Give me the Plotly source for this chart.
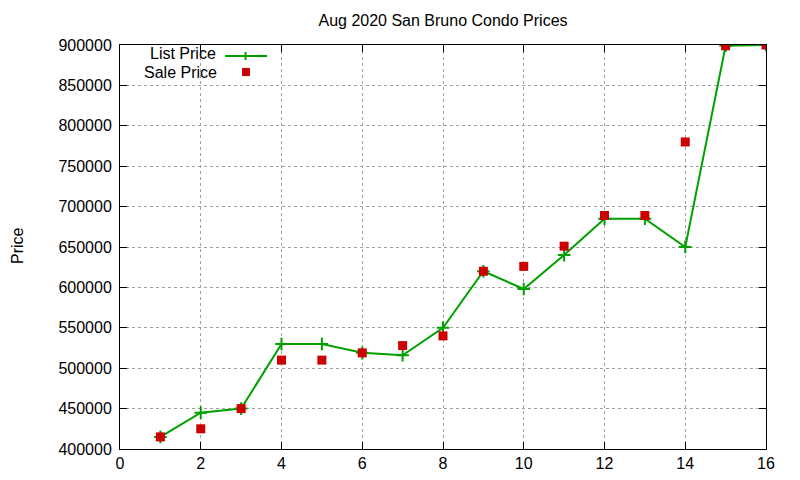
import plotly.graph_objects as go

# house number on the sheet and the two price series
idx = list(range(1, 17))
list_price = [415000, 445000, 450000, 530000, 530000, 519000, 516000, 550000,
              620000, 598000, 640000, 685000, 685000, 650000, 899000, 900000]
sale_price = [415000, 425000, 450000, 510000, 510000, 519000, 528000, 540000,
              620000, 626000, 651000, 689000, 689000, 780000, 899000, 900000]

green = "#00a000"
red = "#cc0000"
fam = "Liberation Sans, Arial, sans-serif"
fnt = dict(family=fam, size=15, color="black")
tfnt = dict(family=fam, size=16, color="black")

# page has an 8px body margin, so plot box 120..766 x 45..449 in the photo
L, T = 112, 37
W, H = 800, 480
px0, px1, py0, py1 = 120, 766, 45, 449


def px(x):
    return (x - px0) / (px1 - px0)


def py(y):
    return (py1 - y) / (py1 - py0)


fig = go.Figure()
fig.add_trace(go.Scatter(
    x=idx, y=list_price, mode="lines+markers", name="List Price",
    line=dict(color=green, width=2),
    marker=dict(symbol="cross-thin", size=9, line=dict(color=green, width=2)),
))
fig.add_trace(go.Scatter(
    x=idx, y=sale_price, mode="markers", name="Sale Price",
    marker=dict(symbol="square", size=9, color=red),
))

ax = dict(showline=True, linecolor="black", linewidth=1, mirror="ticks",
          ticks="inside", ticklen=7, tickcolor="black",
          showgrid=True, gridcolor="#a0a0a0", griddash="dot", gridwidth=1,
          zeroline=False, tickfont=tfnt)

fig.update_xaxes(range=[0, 16], dtick=2, **ax)
fig.update_yaxes(range=[400000, 900000], dtick=50000, tickformat="d", ticklabelstandoff=4, **ax)

# hand drawn legend, gnuplot style (text then sample)
fig.add_annotation(xref="paper", yref="paper", x=px(217), y=py(63),
                   text="List Price", showarrow=False, borderpad=0,
                   xanchor="right", yanchor="bottom", font=tfnt)
fig.add_annotation(xref="paper", yref="paper", x=px(218), y=py(63),
                   text="Sale Price", showarrow=False, borderpad=0,
                   xanchor="right", yanchor="top", font=tfnt)
fig.add_shape(type="line", xref="paper", yref="paper",
              x0=px(225), x1=px(267), y0=py(56), y1=py(56),
              line=dict(color=green, width=2))
fig.add_shape(type="line", xref="paper", yref="paper",
              x0=px(245.5), x1=px(245.5), y0=py(52), y1=py(60),
              line=dict(color=green, width=2))
fig.add_shape(type="rect", xref="paper", yref="paper",
              x0=px(242), x1=px(250), y0=py(68), y1=py(76),
              line=dict(width=0), fillcolor=red)

fig.add_annotation(xref="paper", yref="paper", x=px(17), y=py(246),
                   text="Price", showarrow=False, textangle=-90,
                   xanchor="center", yanchor="middle", font=tfnt)

fig.update_layout(
    width=W, height=H,
    margin=dict(l=L, r=W - (px1 - 8), t=T, b=H - (py1 - 8)),
    plot_bgcolor="white", paper_bgcolor="white",
    showlegend=False,
    font=fnt,
    title=dict(text="Aug 2020 San Bruno Condo Prices", x=0.5, xref="paper",
               y=1 - 12 / H, yanchor="middle", font=tfnt),
)

fig.write_html("out.html")
